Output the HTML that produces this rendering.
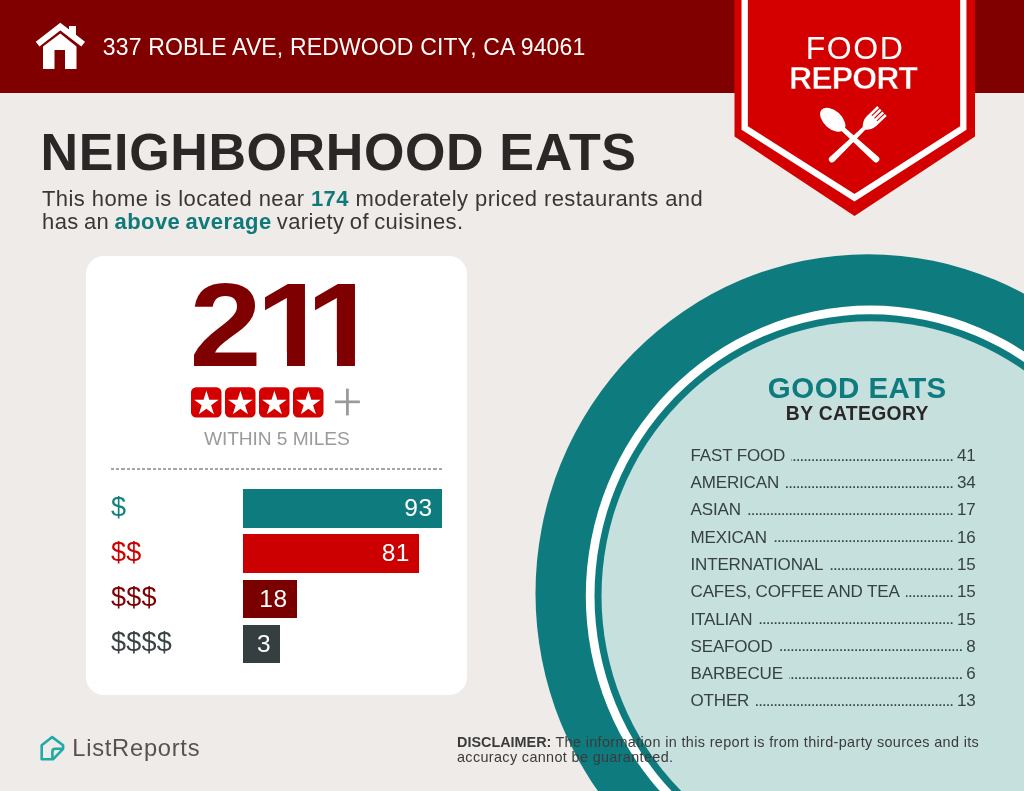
<!DOCTYPE html>
<html>
<head>
<meta charset="utf-8">
<style>
*{margin:0;padding:0;box-sizing:border-box;}
html,body{width:1024px;height:791px;overflow:hidden;background:#efebe8;}
body{font-family:"Liberation Sans",Arial,sans-serif;position:relative;}
.abs{position:absolute;white-space:nowrap;}
#hdr{position:absolute;left:0;top:0;width:1024px;height:93px;background:#800000;}
#addr{left:102.8px;top:35.6px;font-size:23px;line-height:23px;letter-spacing:0.145px;color:#fff;}
#title{left:40.6px;top:126px;font-size:52px;line-height:52px;font-weight:bold;letter-spacing:0.62px;color:#2b2726;}
#para{left:42px;top:187.3px;font-size:22px;line-height:23px;letter-spacing:0.42px;color:#3a3635;}
#para b{color:#0f7a79;}
#card{position:absolute;left:86px;top:256px;width:381px;height:439px;background:#fff;border-radius:18px;}
.dig{position:absolute;top:265px;font-size:119px;line-height:119px;font-weight:bold;color:#7f0000;}
.one{clip-path:polygon(0 0,100px 0,100px 87px,44px 87px,44px 130px,27.8px 130px,27.8px 87px,0 87px);}
#within{left:204px;top:429.25px;font-size:19.2px;line-height:19.2px;letter-spacing:-0.1px;color:#9b9b9b;}
#dash{position:absolute;left:110.5px;top:468px;width:332px;height:1.5px;background:repeating-linear-gradient(90deg,#a5a5a5 0 3.2px,transparent 3.2px 5.2px);}
.lab{font-size:27px;line-height:27px;left:111px;letter-spacing:0.25px;}
.bar{position:absolute;left:243px;height:38.5px;color:#fff;font-size:24.5px;line-height:38.5px;text-align:right;padding-right:9px;letter-spacing:0.5px;}
.row{position:absolute;left:690.5px;width:285px;display:flex;align-items:flex-end;font-size:17px;line-height:17px;height:17px;letter-spacing:-0.15px;color:#374143;white-space:nowrap;}
.row i{flex:1;overflow:hidden;direction:rtl;font-style:normal;letter-spacing:-0.98px;margin:0 4px 0 6px;position:relative;top:-0.4px;}
#disc{left:457px;top:734.7px;font-size:14.4px;line-height:15px;color:#3b3b3b;}
#lr{left:72.3px;top:737.4px;font-size:23.7px;line-height:23.7px;letter-spacing:0.74px;color:#57524f;}
</style>
</head>
<body>
<div id="hdr"></div>
<svg class="abs" style="left:0;top:0" width="120" height="93" viewBox="0 0 120 93">
  <polygon fill="#fff" points="43,46.5 60.3,33.6 76.5,46.5 76.5,69 65,69 65,50 54.5,50 54.5,69 43,69"/>
  <polyline fill="none" stroke="#fff" stroke-width="6" stroke-linejoin="miter" points="37.6,44.2 60.3,26.6 83.2,44.2"/>
  <rect fill="#fff" x="69" y="26" width="7" height="10"/>
</svg>
<div id="addr" class="abs">337 ROBLE AVE, REDWOOD CITY, CA 94061</div>

<svg class="abs" style="left:0;top:0" width="1024" height="230" viewBox="0 0 1024 230">
  <polygon fill="#d40000" points="734.5,-2 975,-2 975,136.5 854.5,216 734.5,136.5"/>
  <polyline fill="none" stroke="#fff" stroke-width="6.3" stroke-linejoin="miter" points="744.7,-5 744.7,128 854.5,197.7 963.3,128 963.3,-5"/>
  <g fill="#fff" transform="translate(822,110) rotate(-47.7)">
    <ellipse cx="0" cy="14.5" rx="9" ry="15"/>
    <path d="M-2.2,26 L-3.3,73 A3.3,3.3 0 0 0 3.3,73 L2.2,26 Z"/>
  </g>
  <g fill="#fff" transform="translate(882,111) rotate(46)">
    <path d="M-6.8,0 h2.60 v10.5 h1.07 v-10.5 h2.60 v10.5 h1.07 v-10.5 h2.60 v10.5 h1.07 v-10.5 h2.60 V15 C6.8,19 4.5,22.5 1.9,25 L3.2,69.4 A3.2,3.2 0 0 1 -3.2,69.4 L-1.9,25 C-4.5,22.5 -6.8,19 -6.8,15 Z"/>
  </g>
</svg>
<div class="abs" style="left:805.8px;top:31.9px;font-size:32px;line-height:32px;letter-spacing:1.5px;color:#fff;">FOOD</div>
<div class="abs" style="left:789px;top:62.4px;font-size:32px;line-height:32px;font-weight:bold;letter-spacing:-0.88px;color:#fff;-webkit-text-stroke:0.5px #d40000;">REPORT</div>

<div id="title" class="abs">NEIGHBORHOOD EATS</div>
<div id="para" class="abs">This home is located near <b>174</b> moderately priced restaurants and<br><span style="word-spacing:-1.3px">has an <b>above average</b> variety of cuisines.</span></div>

<svg class="abs" style="left:0;top:0" width="1024" height="791" viewBox="0 0 1024 791">
  <ellipse cx="868.2" cy="593.3" rx="332.7" ry="339" fill="#0e7b7e"/>
  <ellipse cx="870.4" cy="595.8" rx="284.6" ry="290.2" fill="#fff"/>
  <ellipse cx="870.4" cy="595.8" rx="275.9" ry="281.5" fill="#0e7b7e"/>
  <ellipse cx="870.4" cy="595.8" rx="268.9" ry="274.5" fill="#c6e0dd"/>
</svg>

<div id="card"></div>
<div class="dig" style="left:189.7px;transform:scaleX(1.09);transform-origin:4.3px 0">2</div>
<div class="dig one" style="left:257px;transform:scaleX(1.11);transform-origin:8px 0">1</div>
<div class="dig one" style="left:306.8px;transform:scaleX(1.11);transform-origin:8px 0">1</div>
<svg class="abs" style="left:0;top:0" width="400" height="430" viewBox="0 0 400 430">
  <g transform="translate(191,387.2)"><rect x="0" y="0" width="30.5" height="30.3" rx="5.2" fill="#d40000"/><polygon fill="#fff" points="15.4,3.5 18.3,12.5 27.7,12.5 20.1,18.0 23.0,27.0 15.4,21.5 7.8,27.0 10.7,18.0 3.1,12.5 12.5,12.5"/></g>
  <g transform="translate(225,387.2)"><rect x="0" y="0" width="30.5" height="30.3" rx="5.2" fill="#d40000"/><polygon fill="#fff" points="15.4,3.5 18.3,12.5 27.7,12.5 20.1,18.0 23.0,27.0 15.4,21.5 7.8,27.0 10.7,18.0 3.1,12.5 12.5,12.5"/></g>
  <g transform="translate(259,387.2)"><rect x="0" y="0" width="30.5" height="30.3" rx="5.2" fill="#d40000"/><polygon fill="#fff" points="15.4,3.5 18.3,12.5 27.7,12.5 20.1,18.0 23.0,27.0 15.4,21.5 7.8,27.0 10.7,18.0 3.1,12.5 12.5,12.5"/></g>
  <g transform="translate(293,387.2)"><rect x="0" y="0" width="30.5" height="30.3" rx="5.2" fill="#d40000"/><polygon fill="#fff" points="15.4,3.5 18.3,12.5 27.7,12.5 20.1,18.0 23.0,27.0 15.4,21.5 7.8,27.0 10.7,18.0 3.1,12.5 12.5,12.5"/></g>
  <rect x="334.9" y="400.5" width="25" height="2.7" fill="#9a9a9a"/>
  <rect x="346" y="388.6" width="2.8" height="26.8" fill="#9a9a9a"/>
</svg>
<div id="within" class="abs">WITHIN 5 MILES</div>
<div id="dash"></div>

<div class="abs lab" style="top:493.6px;color:#13807f;">$</div>
<div class="abs lab" style="top:538.9px;color:#cc0000;">$$</div>
<div class="abs lab" style="top:584.3px;color:#7f0000;">$$$</div>
<div class="abs lab" style="top:629.4px;color:#3b4445;">$$$$</div>

<div class="bar" style="top:489.2px;width:198.6px;background:#0e7b7e;">93</div>
<div class="bar" style="top:534.4px;width:176px;background:#cc0000;">81</div>
<div class="bar" style="top:579.6px;width:53.6px;background:#7a0000;">18</div>
<div class="bar" style="top:624.8px;width:37.2px;background:#363f40;">3</div>

<div class="abs" style="left:707.3px;width:300px;text-align:center;top:372.9px;font-size:29.5px;line-height:29.5px;font-weight:bold;letter-spacing:0.45px;color:#0e7b7e;">GOOD EATS</div>
<div class="abs" style="left:707.3px;width:300px;text-align:center;top:404.1px;font-size:19.3px;line-height:19.3px;font-weight:bold;letter-spacing:0.36px;color:#2b2726;">BY CATEGORY</div>

<div class="row" style="top:446.90px"><span>FAST FOOD</span><i>................................................................................</i><span>41</span></div>
<div class="row" style="top:474.17px"><span>AMERICAN</span><i>................................................................................</i><span>34</span></div>
<div class="row" style="top:501.44px"><span>ASIAN</span><i>................................................................................</i><span>17</span></div>
<div class="row" style="top:528.71px"><span>MEXICAN</span><i>................................................................................</i><span>16</span></div>
<div class="row" style="top:555.98px"><span>INTERNATIONAL</span><i>................................................................................</i><span>15</span></div>
<div class="row" style="top:583.25px"><span>CAFES, COFFEE AND TEA</span><i>................................................................................</i><span>15</span></div>
<div class="row" style="top:610.52px"><span>ITALIAN</span><i>................................................................................</i><span>15</span></div>
<div class="row" style="top:637.79px"><span>SEAFOOD</span><i>................................................................................</i><span>8</span></div>
<div class="row" style="top:665.06px"><span>BARBECUE</span><i>................................................................................</i><span>6</span></div>
<div class="row" style="top:692.33px"><span>OTHER</span><i>................................................................................</i><span>13</span></div>

<svg class="abs" style="left:0;top:720px" width="80" height="50" viewBox="0 720 80 50">
  <path d="M41.7,745.3 L52.2,737.1 L63.1,745.2 L63.1,748.8 L53,759.3 L41.7,759.3 Z" fill="none" stroke="#1eaaa9" stroke-width="2.6" stroke-linejoin="round"/>
  <path d="M52.4,759 L52.4,751.6 Q52.4,748.8 55.2,748.8 L63.1,748.8" fill="none" stroke="#1eaaa9" stroke-width="2.6" stroke-linejoin="round"/>
</svg>
<div id="lr" class="abs">ListReports</div>

<div id="disc" class="abs"><b>DISCLAIMER:</b><span style="letter-spacing:0.36px"> The information in this report is from third-party sources and its<br>accuracy cannot be guaranteed.</span></div>
</body>
</html>
